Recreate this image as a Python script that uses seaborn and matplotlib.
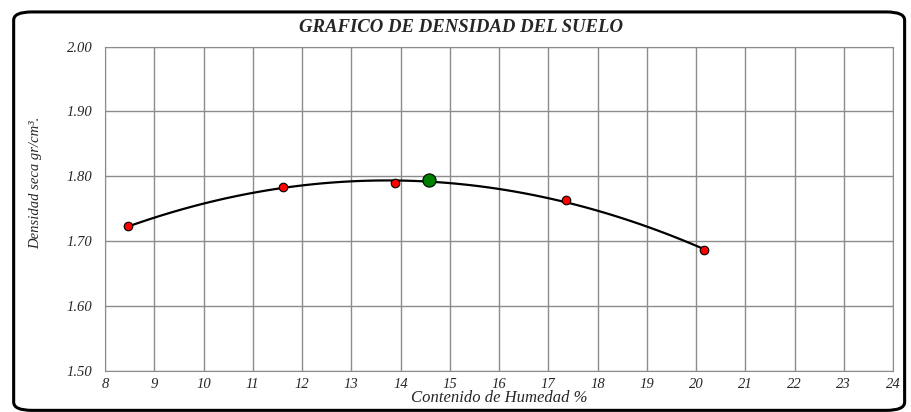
import numpy as np
import pandas as pd
import matplotlib
matplotlib.use('Agg')
import matplotlib.pyplot as plt
import seaborn as sns
from matplotlib.patches import FancyBboxPatch

# Datos del ensayo
humedad = [8.47, 11.61, 13.88, 17.35, 20.17]
densidad = [1.723, 1.783, 1.790, 1.764, 1.686]
humedad_opt = [14.58]
densidad_max = [1.794]
x_ticks = list(range(8, 25))
y_ticks = [1.50, 1.60, 1.70, 1.80, 1.90, 2.00]

data = pd.DataFrame({'humedad': humedad, 'densidad': densidad})

sns.set_style('white')
plt.rcParams['font.family'] = ['Liberation Serif', 'DejaVu Serif']

fig = plt.figure(figsize=(9.11, 4.12), dpi=100)
ax = fig.add_axes([0.1153, 0.0995, 0.865, 0.7876])

# curva de ajuste (polinomio de 2do grado)
sns.regplot(x='humedad', y='densidad', data=data, order=2, ci=None,
            scatter=False, line_kws={'color': 'black', 'lw': 1.6}, ax=ax)
sns.scatterplot(x='humedad', y='densidad', data=data, color='red',
                edgecolor='black', linewidth=0.8, s=38, marker='o', ax=ax, zorder=5)
ax.scatter(humedad_opt, densidad_max, color='green', edgecolor='black',
           linewidth=0.8, s=90, zorder=6)

ax.set_xlim(8, 24)
ax.set_ylim(1.50, 2.00)
ax.set_xticks(x_ticks)
ax.set_yticks(y_ticks)
ax.set_yticklabels(['%.2f' % v for v in y_ticks])
ax.grid(True, color='#8c8c8c', lw=1)
for s in ax.spines.values():
    s.set_color('#8c8c8c')
ax.tick_params(axis='y', direction='out', length=6, color='#8c8c8c', labelsize=10.5, pad=3)
ax.tick_params(axis='x', direction='out', length=0, labelsize=10.5, pad=5)
for lab in ax.get_xticklabels() + ax.get_yticklabels():
    lab.set_fontstyle('italic')

ax.set_xlabel('Contenido de Humedad %', fontsize=12, fontstyle='italic')
ax.xaxis.set_label_coords(0.5, -0.06)
ax.set_ylabel('Densidad seca gr/cm³.', fontsize=10.5, fontstyle='italic')
ax.yaxis.set_label_coords(-0.08, 0.58)

fig.text(0.506, 0.934, 'GRAFICO DE DENSIDAD DEL SUELO', ha='center', va='center',
         fontsize=13.5, fontweight='bold', fontstyle='italic')

# marco redondeado
frame = FancyBboxPatch((0.015, 0.004), 0.978, 0.967, boxstyle='round,pad=0,rounding_size=0.02',
                       transform=fig.transFigure, fill=False, lw=2.2, ec='black')
fig.patches.append(frame)

fig.savefig('out.png', dpi=100)
